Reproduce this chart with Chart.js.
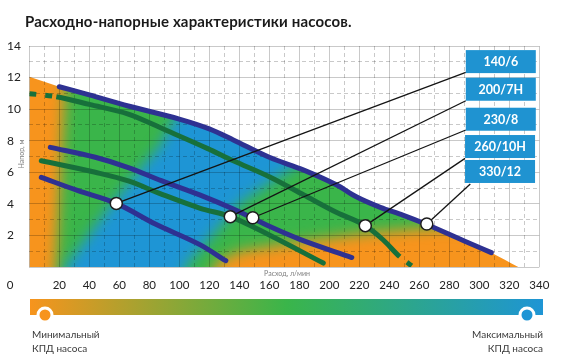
<!DOCTYPE html>
<html>
<head>
<meta charset="utf-8">
<script src="https://cdn.jsdelivr.net/npm/chart.js@4"></script>
<style>
  html, body { margin: 0; padding: 0; background: #fff; }
  #wrap { width: 565px; height: 359px; }
</style>
</head>
<body>
<div id="wrap"><canvas id="myChart" width="565" height="359"></canvas></div>
<script>
// ---- data (flow l/min, head m) ----
var pumpNames = ['140/6', '200/7H', '230/8', '260/10H', '330/12'];

var q140 = [8, 32, 58, 84, 114, 131];
var h140 = [5.68, 4.85, 4.03, 2.72, 1.4, 0.4];

var q200 = [8, 44, 66, 88, 114, 134, 160, 196];
var h200 = [6.73, 6.0, 5.45, 4.62, 3.72, 3.19, 2.03, 0.25];

var q230 = [14, 44, 66, 88, 114, 136, 160, 180, 215];
var h230 = [7.58, 6.95, 6.3, 5.47, 4.55, 3.67, 2.58, 1.77, 0.6];

var q260 = [0, 18, 40, 66, 92, 119, 136, 160, 183, 205, 224, 236, 247, 256];
var h260 = [10.98, 10.79, 10.3, 9.69, 8.63, 7.5, 6.73, 5.72, 4.56, 3.45, 2.62, 1.71, 0.65, 0];

var q330 = [20, 40, 66, 100, 120, 136, 160, 183, 205, 218, 234, 249, 263, 290, 308];
var h330 = [11.42, 10.9, 10.2, 9.37, 8.75, 8.05, 6.95, 6.14, 5.19, 4.45, 3.78, 3.29, 2.77, 1.65, 0.91];

// the coloured field runs from the head axis to the flow axis around the 330/12 curve
var fieldStart = [0, 12.05];
var fieldEnd = [326, 0];

// marked duty points and where their leader lines meet the name boxes
var markQ = [58, 134, 149, 224, 265];
var markH = [4.03, 3.19, 3.12, 2.62, 2.72];
var leaderQ = [291, 291, 291, 290.5, 294];
var leaderH = [12.33, 10.53, 8.68, 6.88, 5.26];
var boxQ = [291, 291, 291, 290.5, 290.5];
var boxH = [13.74, 11.99, 10.09, 8.36, 6.78];

var xTicks = [0, 340, 20];
var yTicks = [0, 14, 2];

// ---- styles ----
var FONT = 'Lato, "Open Sans", sans-serif';
var ORANGE = '#f7941d', GREEN = '#3ab54a', BLUE = '#1e95d5';
var NAVY = '#2e3192', DKGREEN = '#17703b';
var GRID = 'rgba(0,0,0,0.21)';

// rough efficiency zones of the colour field (flow, head)
var greenZone = [[16, -3], [26, 15], [360, 15], [360, 2.6], [270, 2.5], [225, 2.15], [180, 1.6], [140, 1.0], [125, 0.3], [112, -3]];
var blueZone = [[21, -3], [24, 0], [55, 4], [88, 7.8], [108, 11.5], [210, 11.5], [198, 7.6], [166, 5.7], [140, 4], [104, 0], [100, -3]];

function pts(xs, ys) {
  return xs.map(function (x, i) { return { x: x, y: ys[i] }; });
}

var fieldCache = null;
function fieldColour(context) {
  var chart = context.chart;
  var area = chart.chartArea;
  if (!area) return ORANGE;
  var key = [area.left, area.top, area.right, area.bottom].join(',');
  if (fieldCache && fieldCache.key === key) return fieldCache.pattern;
  var sx = chart.scales.x, sy = chart.scales.y;
  var c = document.createElement('canvas');
  c.width = chart.canvas.width;
  c.height = chart.canvas.height;
  var g = c.getContext('2d');
  g.fillStyle = ORANGE;
  g.fillRect(0, 0, c.width, c.height);
  function zone(poly, colour, blur) {
    g.save();
    g.filter = 'blur(' + blur + 'px)';
    g.fillStyle = colour;
    g.beginPath();
    poly.forEach(function (p, i) {
      var px = sx.getPixelForValue(p[0]), py = sy.getPixelForValue(p[1]);
      if (i) g.lineTo(px, py); else g.moveTo(px, py);
    });
    g.closePath();
    g.fill();
    g.restore();
  }
  zone(greenZone, GREEN, 7);
  zone(blueZone, BLUE, 7);
  fieldCache = { key: key, pattern: chart.ctx.createPattern(c, 'no-repeat') };
  return fieldCache.pattern;
}

function curve(label, xs, ys, colour, extra) {
  var ds = {
    label: label,
    data: pts(xs, ys),
    borderColor: colour,
    borderWidth: 5,
    borderCapStyle: 'round',
    borderJoinStyle: 'round',
    pointRadius: 0,
    fill: false,
    cubicInterpolationMode: 'monotone',
    order: 2
  };
  return Object.assign(ds, extra || {});
}

var datasets = [];

datasets.push({
  label: 'marks',
  data: pts(markQ, markH),
  showLine: false,
  pointRadius: 6,
  pointBackgroundColor: '#fff',
  pointBorderColor: '#1d1d1d',
  pointBorderWidth: 1.5,
  order: 0
});

markQ.forEach(function (q, i) {
  datasets.push({
    label: 'leader ' + pumpNames[i],
    data: [{ x: q, y: markH[i] }, { x: leaderQ[i], y: leaderH[i] }],
    borderColor: '#141414',
    borderWidth: 1.3,
    pointRadius: 0,
    fill: false,
    order: 1
  });
});

datasets.push(curve('140/6', q140, h140, NAVY));
datasets.push(curve('200/7H', q200, h200, DKGREEN));
datasets.push(curve('230/8', q230, h230, NAVY));
datasets.push(curve('260/10H', q260, h260, DKGREEN, {
  borderCapStyle: 'butt',
  segment: {
    borderDash: function (ctx) {
      if (ctx.p1.parsed.x <= 18) return [7, 9];
      if (ctx.p0.parsed.x >= 247) return [0, 9, 6, 100];
      return undefined;
    }
  }
}));
datasets.push(curve('330/12', q330, h330, NAVY));

datasets.push({
  label: 'field',
  data: [{ x: fieldStart[0], y: fieldStart[1] }].concat(pts(q330, h330), [{ x: fieldEnd[0], y: fieldEnd[1] }]),
  borderWidth: 0,
  borderColor: 'rgba(0,0,0,0)',
  pointRadius: 0,
  fill: 'origin',
  backgroundColor: fieldColour,
  cubicInterpolationMode: 'monotone',
  order: 3
});

var decorPlugin = {
  id: 'decor',
  afterDatasetsDraw: function (chart) {
    var ctx = chart.ctx, sx = chart.scales.x, sy = chart.scales.y;
    ctx.save();
    ctx.font = 'bold 12.5px ' + FONT;
    ctx.textAlign = 'center';
    ctx.textBaseline = 'middle';
    pumpNames.forEach(function (name, i) {
      var x = sx.getPixelForValue(boxQ[i]), y = sy.getPixelForValue(boxH[i]);
      ctx.fillStyle = '#1f93d1';
      ctx.fillRect(x, y, 70, 23);
      ctx.fillStyle = '#fff';
      ctx.fillText(name, x + 35, y + 12);
    });
    ctx.restore();
  },
  afterDraw: function (chart) {
    var ctx = chart.ctx;
    ctx.save();
    // title
    ctx.fillStyle = '#1a1a1a';
    ctx.font = 'bold 15px ' + FONT;
    ctx.textAlign = 'left';
    ctx.textBaseline = 'middle';
    ctx.letterSpacing = '0.15px';
    ctx.fillText('Расходно-напорные характеристики насосов.', 25, 22);
    ctx.letterSpacing = '0px';

    // axis titles
    ctx.fillStyle = '#808080';
    ctx.font = '7px ' + FONT;
    ctx.textAlign = 'center';
    ctx.fillText('Расход, л/мин', 287, 274);
    ctx.save();
    ctx.translate(22, 154);
    ctx.rotate(-Math.PI / 2);
    ctx.fillText('Напор, м', 0, 0);
    ctx.restore();

    // lone zero at the corner
    ctx.fillStyle = '#222';
    ctx.font = '11.5px ' + FONT;
    ctx.fillText('0', 10, 285);

    // efficiency scale bar
    var grad = ctx.createLinearGradient(30, 0, 543, 0);
    grad.addColorStop(0, ORANGE);
    grad.addColorStop(0.5, GREEN);
    grad.addColorStop(1, BLUE);
    ctx.fillStyle = grad;
    ctx.fillRect(30, 299, 513, 16);
    [[45, ORANGE], [527, BLUE]].forEach(function (c) {
      ctx.beginPath();
      ctx.arc(c[0], 315, 7, 0, Math.PI * 2);
      ctx.fillStyle = c[1];
      ctx.fill();
      ctx.lineWidth = 3;
      ctx.strokeStyle = '#fff';
      ctx.stroke();
    });
    ctx.fillStyle = '#3a3a3a';
    ctx.font = '10px ' + FONT;
    ctx.textAlign = 'left';
    ctx.fillText('Минимальный', 32, 334.5);
    ctx.fillText('КПД насоса', 32, 348.5);
    ctx.textAlign = 'right';
    ctx.fillText('Максимальный', 543, 334.5);
    ctx.fillText('КПД насоса', 543, 348.5);
    ctx.restore();
  }
};

var ctx = document.getElementById('myChart').getContext('2d');

var myChart = new Chart(ctx, {
  type: 'line',
  data: { datasets: datasets },
  plugins: [decorPlugin],
  options: {
    responsive: false,
    animation: false,
    events: [],
    layout: { padding: { top: 46, left: 7, right: 25.7, bottom: 62 } },
    plugins: {
      legend: { display: false },
      tooltip: { enabled: false },
      filler: { drawTime: 'beforeDraw' }
    },
    scales: {
      x: {
        type: 'linear', position: 'bottom',
        min: xTicks[0], max: xTicks[1],
        ticks: {
          stepSize: xTicks[2], padding: 11, color: '#222', maxRotation: 0, autoSkip: false,
          font: { family: FONT, size: 11.5 },
          callback: function (v) { return v === 0 ? '' : v; }
        },
        grid: { color: GRID, drawTicks: false },
        border: { display: false },
        afterFit: function (s) { s.height = 30; }
      },
      x2: {
        type: 'linear', position: 'bottom',
        min: xTicks[0], max: xTicks[1],
        ticks: { display: false, stepSize: xTicks[2] / 2 },
        grid: {
          drawTicks: false,
          color: function (c) { return c.tick && c.tick.value % xTicks[2] === 0 ? 'rgba(0,0,0,0)' : GRID; }
        },
        border: { display: false, dash: [4, 3] },
        afterFit: function (s) { s.height = 0; }
      },
      y: {
        type: 'linear', position: 'left',
        min: yTicks[0], max: yTicks[1],
        ticks: {
          stepSize: yTicks[2], crossAlign: 'far', color: '#222',
          font: { family: FONT, size: 12 },
          callback: function (v) { return v === 0 ? '' : v; }
        },
        grid: { color: GRID, drawTicks: false },
        border: { display: false },
        afterFit: function (s) { s.width = 22.3; }
      },
      y2: {
        type: 'linear', position: 'left',
        min: yTicks[0], max: yTicks[1],
        ticks: { display: false, stepSize: yTicks[2] / 2 },
        grid: {
          drawTicks: false,
          color: function (c) { return c.tick && c.tick.value % yTicks[2] === 0 ? 'rgba(0,0,0,0)' : GRID; }
        },
        border: { display: false, dash: [4, 3] },
        afterFit: function (s) { s.width = 0; }
      }
    }
  }
});
</script>
</body>
</html>
